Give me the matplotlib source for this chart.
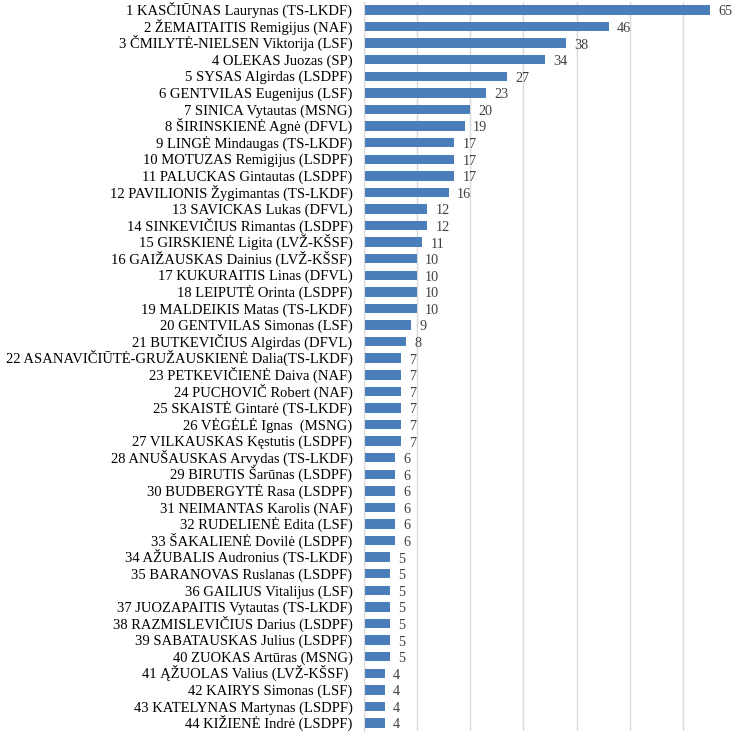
import matplotlib
matplotlib.use("Agg")
import matplotlib.pyplot as plt

names = [
    "1 KASČIŪNAS Laurynas (TS-LKDF)",
    "2 ŽEMAITAITIS Remigijus (NAF)",
    "3 ČMILYTĖ-NIELSEN Viktorija (LSF)",
    "4 OLEKAS Juozas (SP)",
    "5 SYSAS Algirdas (LSDPF)",
    "6 GENTVILAS Eugenijus (LSF)",
    "7 SINICA Vytautas (MSNG)",
    "8 ŠIRINSKIENĖ Agnė (DFVL)",
    "9 LINGĖ Mindaugas (TS-LKDF)",
    "10 MOTUZAS Remigijus (LSDPF)",
    "11 PALUCKAS Gintautas (LSDPF)",
    "12 PAVILIONIS Žygimantas (TS-LKDF)",
    "13 SAVICKAS Lukas (DFVL)",
    "14 SINKEVIČIUS Rimantas (LSDPF)",
    "15 GIRSKIENĖ Ligita (LVŽ-KŠSF)",
    "16 GAIŽAUSKAS Dainius (LVŽ-KŠSF)",
    "17 KUKURAITIS Linas (DFVL)",
    "18 LEIPUTĖ Orinta (LSDPF)",
    "19 MALDEIKIS Matas (TS-LKDF)",
    "20 GENTVILAS Simonas (LSF)",
    "21 BUTKEVIČIUS Algirdas (DFVL)",
    "22 ASANAVIČIŪTĖ-GRUŽAUSKIENĖ Dalia(TS-LKDF)",
    "23 PETKEVIČIENĖ Daiva (NAF)",
    "24 PUCHOVIČ Robert (NAF)",
    "25 SKAISTĖ Gintarė (TS-LKDF)",
    "26 VĖGĖLĖ Ignas  (MSNG)",
    "27 VILKAUSKAS Kęstutis (LSDPF)",
    "28 ANUŠAUSKAS Arvydas (TS-LKDF)",
    "29 BIRUTIS Šarūnas (LSDPF)",
    "30 BUDBERGYTĖ Rasa (LSDPF)",
    "31 NEIMANTAS Karolis (NAF)",
    "32 RUDELIENĖ Edita (LSF)",
    "33 ŠAKALIENĖ Dovilė (LSDPF)",
    "34 AŽUBALIS Audronius (TS-LKDF)",
    "35 BARANOVAS Ruslanas (LSDPF)",
    "36 GAILIUS Vitalijus (LSF)",
    "37 JUOZAPAITIS Vytautas (TS-LKDF)",
    "38 RAZMISLEVIČIUS Darius (LSDPF)",
    "39 SABATAUSKAS Julius (LSDPF)",
    "40 ZUOKAS Artūras (MSNG)",
    "41 ĄŽUOLAS Valius (LVŽ-KŠSF) ",
    "42 KAIRYS Simonas (LSF)",
    "43 KATELYNAS Martynas (LSDPF)",
    "44 KIŽIENĖ Indrė (LSDPF)",
]
values = [65, 46, 38, 34, 27, 23, 20, 19, 17, 17, 17, 16, 12, 12, 11,
          10, 10, 10, 10, 9, 8, 7, 7, 7, 7, 7, 7, 6, 6, 6, 6, 6, 6,
          5, 5, 5, 5, 5, 5, 5, 4, 4, 4, 4]
xticks = [0, 10, 20, 30, 40, 50, 60, 70]

plt.rcParams['font.family'] = ['Liberation Serif', 'DejaVu Serif']

fig = plt.figure(figsize=(7.36, 7.36), dpi=100)
ax = fig.add_axes([363.5 / 736, 1 - 731.3 / 736, (736.8 - 363.5) / 736, (731.3 - 1.7) / 736])

ypos = list(range(len(names)))
ax.barh(ypos, values, height=0.57, color='#4a7ebb', zorder=3)
ax.set_ylim(len(names) - 0.5, -0.5)
ax.set_xlim(0, 70)
ax.set_yticks(ypos)
ax.set_yticklabels([])
ax.set_xticks(xticks)
ax.tick_params(axis='y', length=0)
ax.tick_params(axis='x', length=0, labelbottom=False)
ax.grid(axis='x', color='#d9d9d9', linewidth=1.0, zorder=0)
for s in ['top', 'right', 'bottom']:
    ax.spines[s].set_visible(False)
ax.spines['left'].set_color('#d9d9d9')
ax.spines['left'].set_zorder(4)

trans = ax.get_yaxis_transform()
for y, n in zip(ypos, names):
    ax.annotate(n, (0, y), xycoords=trans, xytext=(-8, -3.6), textcoords='offset points',
                ha='right', va='baseline', fontsize=10.5, color='black')

for y, v in zip(ypos, values):
    ax.annotate(str(v), (v, y), xytext=(6, -3.9), textcoords='offset points',
                ha='left', va='baseline', fontsize=10.2, color='#404040')

fig.savefig('out.png', dpi=100)
